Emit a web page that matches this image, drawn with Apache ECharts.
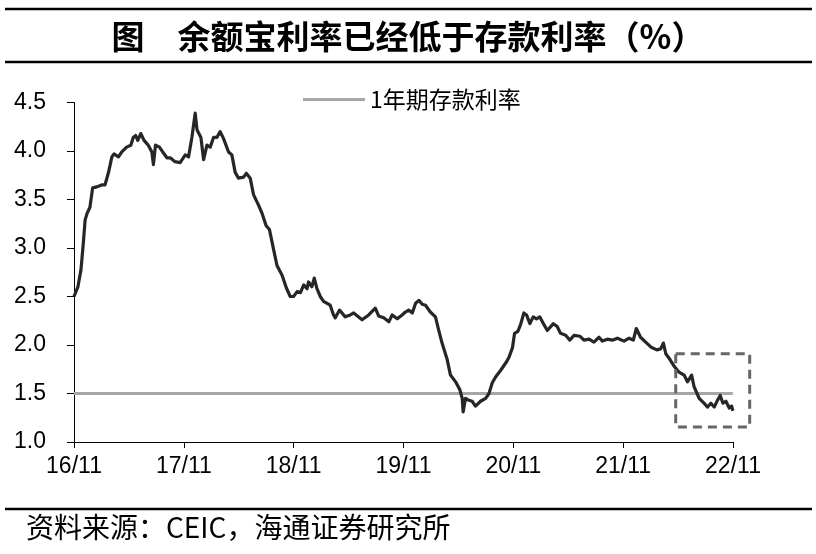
<!DOCTYPE html>
<html>
<head>
<meta charset="utf-8">
<script src="https://cdn.jsdelivr.net/npm/echarts@6/dist/echarts.min.js"></script>
<style>
html,body{margin:0;padding:0;background:#fff;}
#chart{width:816px;height:554px;}
</style>
</head>
<body>
<div id="chart"></div>
<script>
// ---- data ----
const titleText = '图　余额宝利率已经低于存款利率（%）';
const sourceText = '资料来源：CEIC，海通证券研究所';
const depositName = '1年期存款利率';
const startDate = '2016-11-01';
const xTickLabels = ['16/11', '17/11', '18/11', '19/11', '20/11', '21/11', '22/11'];

const dates = [
  '2016-11-01','2016-11-14','2016-11-24','2016-12-02','2016-12-08','2016-12-15','2016-12-24',
  '2017-01-02','2017-01-16','2017-02-01','2017-02-12','2017-02-23','2017-03-07','2017-03-14',
  '2017-03-29','2017-04-09','2017-04-25','2017-05-09','2017-05-17','2017-05-25','2017-06-01',
  '2017-06-11','2017-06-22','2017-07-06','2017-07-18','2017-07-23','2017-07-30','2017-08-12',
  '2017-08-23','2017-09-06','2017-09-17','2017-10-03','2017-10-20','2017-11-06','2017-11-17',
  '2017-11-28','2017-12-09','2017-12-15','2017-12-28','2018-01-06','2018-01-17','2018-01-28',
  '2018-02-08','2018-02-19','2018-03-02','2018-03-13','2018-03-30','2018-04-10','2018-04-21',
  '2018-05-02','2018-05-19','2018-05-28','2018-06-10','2018-06-21','2018-07-08','2018-07-19',
  '2018-08-02','2018-08-13','2018-08-27','2018-09-07','2018-09-24','2018-10-08','2018-10-21',
  '2018-11-01','2018-11-13','2018-11-24','2018-12-05','2018-12-16','2018-12-21','2019-01-01',
  '2019-01-09','2019-01-18','2019-01-29','2019-02-09','2019-03-03','2019-03-14','2019-03-20',
  '2019-04-03','2019-04-22','2019-05-09','2019-05-20','2019-06-17','2019-07-09','2019-07-31',
  '2019-08-11','2019-08-28','2019-09-14','2019-09-25','2019-10-12','2019-10-28','2019-11-08',
  '2019-11-19','2019-12-01','2019-12-12','2019-12-23','2020-01-03','2020-01-14','2020-01-30',
  '2020-02-16','2020-02-27','2020-03-09','2020-03-26','2020-04-06','2020-04-23','2020-05-07',
  '2020-05-15','2020-05-18','2020-05-26','2020-06-06','2020-06-17','2020-06-28','2020-07-15',
  '2020-08-01','2020-08-12','2020-08-23','2020-09-03','2020-09-20','2020-10-10','2020-10-17',
  '2020-10-29','2020-11-05','2020-11-16','2020-11-25','2020-12-06','2020-12-15','2020-12-26',
  '2021-01-06','2021-01-17','2021-01-28','2021-02-09','2021-02-22','2021-03-14','2021-03-27',
  '2021-04-07','2021-04-24','2021-05-08','2021-05-22','2021-06-11','2021-06-24','2021-07-11',
  '2021-07-27','2021-08-13','2021-08-24','2021-09-10','2021-09-26','2021-10-13','2021-11-04',
  '2021-11-21','2021-12-05','2021-12-15','2021-12-29','2022-01-15','2022-02-01','2022-02-21',
  '2022-03-06','2022-03-15','2022-03-23','2022-04-06','2022-04-20','2022-05-06','2022-05-23',
  '2022-06-03','2022-06-17','2022-06-25','2022-07-12','2022-07-28','2022-08-09','2022-08-20',
  '2022-08-31','2022-09-11','2022-09-20','2022-09-29','2022-10-09','2022-10-20','2022-10-28',
  '2022-11-01'
];
const yuebaoRate = [
  2.50,2.60,2.77,3.05,3.29,3.36,3.42,
  3.62,3.63,3.65,3.65,3.77,3.94,3.97,
  3.94,3.99,4.04,4.06,4.14,4.16,4.11,
  4.18,4.11,4.06,3.99,3.86,4.06,4.04,
  3.99,3.93,3.93,3.89,3.88,3.96,3.94,
  4.14,4.39,4.22,4.14,3.91,4.06,4.04,
  4.14,4.14,4.20,4.13,3.99,3.96,3.78,
  3.72,3.73,3.77,3.72,3.55,3.44,3.36,
  3.23,3.19,2.98,2.82,2.72,2.59,2.50,
  2.50,2.55,2.54,2.62,2.58,2.65,2.60,
  2.69,2.58,2.50,2.45,2.41,2.31,2.28,
  2.36,2.29,2.31,2.33,2.26,2.31,2.38,
  2.30,2.28,2.24,2.31,2.27,2.31,2.34,
  2.36,2.33,2.43,2.46,2.42,2.41,2.34,
  2.29,2.15,2.02,1.85,1.69,1.62,1.54,
  1.45,1.31,1.45,1.43,1.42,1.37,1.42,
  1.45,1.50,1.61,1.67,1.74,1.83,1.87,
  1.97,2.12,2.14,2.21,2.33,2.31,2.22,
  2.29,2.27,2.29,2.22,2.15,2.22,2.19,
  2.12,2.10,2.05,2.10,2.09,2.05,2.06,
  2.03,2.08,2.04,2.06,2.05,2.07,2.04,
  2.07,2.05,2.17,2.08,2.03,1.98,1.95,
  1.96,2.02,1.91,1.85,1.78,1.72,1.69,
  1.62,1.69,1.57,1.45,1.40,1.36,1.40,
  1.36,1.43,1.48,1.40,1.42,1.35,1.37,
  1.32
];
const depositDates = ['2016-11-01', '2022-11-01'];
const depositRate = [1.5, 1.5];
// highlight box (date range / value range)
const boxDates = ['2022-04-25', '2022-12-27'];
const boxValues = [1.91, 1.155];

// ---- helpers ----
const DAY = 86400000;
function yearsFromStart(d) {
  return (Date.parse(d) - Date.parse(startDate)) / (365.25 * DAY);
}
const lineData = dates.map((d, i) => [yearsFromStart(d), yuebaoRate[i]]);
const depositData = depositDates.map((d, i) => [yearsFromStart(d), depositRate[i]]);

const latin = 'Liberation Sans, Arial, sans-serif';
const cjk = '"Noto Sans CJK SC", sans-serif';

const chart = echarts.init(document.getElementById('chart'), null, {renderer: 'canvas'});
const option = {
  animation: false,
  backgroundColor: '#ffffff',
  title: {
    text: titleText,
    left: 'center',
    top: 15,
    textStyle: {fontFamily: cjk, fontSize: 33, fontWeight: 'bold', color: '#000'}
  },
  legend: {
    data: [depositName],
    left: 298,
    top: 83,
    itemWidth: 62,
    itemHeight: 14,
    icon: 'path://M0,6 L62,6 L62,9 L0,9 Z',
    textStyle: {fontFamily: cjk, fontSize: 23, color: '#000'},
    itemStyle: {color: '#a6a6a6'}
  },
  grid: {left: 74, right: 83, top: 102.5, bottom: 112, containLabel: false},
  xAxis: {
    type: 'value',
    min: 0,
    max: 6,
    interval: 1,
    axisLine: {lineStyle: {color: '#000', width: 1}},
    axisTick: {show: true, length: 6, lineStyle: {color: '#000'}},
    splitLine: {show: false},
    axisLabel: {
      margin: 13,
      fontFamily: latin,
      fontSize: 23,
      color: '#000',
      formatter: v => xTickLabels[Math.round(v)] || ''
    }
  },
  yAxis: {
    type: 'value',
    min: 1.0,
    max: 4.5,
    interval: 0.5,
    axisLine: {show: true, lineStyle: {color: '#000', width: 1}},
    axisTick: {show: true, length: 7, lineStyle: {color: '#000'}},
    splitLine: {show: false},
    axisLabel: {
      margin: 28,
      fontFamily: latin,
      fontSize: 23,
      color: '#000',
      formatter: v => v.toFixed(1)
    }
  },
  series: [
    {
      name: depositName,
      type: 'line',
      data: depositData,
      symbol: 'none',
      lineStyle: {color: '#a6a6a6', width: 3},
      itemStyle: {color: '#a6a6a6'},
      z: 2
    },
    {
      name: '余额宝7日年化收益率',
      type: 'line',
      data: lineData,
      symbol: 'none',
      clip: false,
      lineStyle: {color: '#262626', width: 3.2, join: 'round'},
      itemStyle: {color: '#262626'},
      z: 3
    }
  ]
};
chart.setOption(option);

// decorations: rules and source, and highlight box positioned through the axes
const p1 = chart.convertToPixel({gridIndex: 0}, [yearsFromStart(boxDates[0]), boxValues[0]]);
const p2 = chart.convertToPixel({gridIndex: 0}, [yearsFromStart(boxDates[1]), boxValues[1]]);
chart.setOption({
  graphic: [
    {type: 'line', shape: {x1: 5, y1: 9, x2: 812, y2: 9}, style: {stroke: '#000', lineWidth: 2.5}},
    {type: 'line', shape: {x1: 5, y1: 62, x2: 812, y2: 62}, style: {stroke: '#000', lineWidth: 2.5}},
    {type: 'line', shape: {x1: 5, y1: 509, x2: 812, y2: 509}, style: {stroke: '#000', lineWidth: 2.5}},
    {type: 'text', left: 26, top: 513, style: {text: sourceText, font: '28px "Noto Sans CJK SC", sans-serif', fill: '#000'}},
    {type: 'rect', shape: {x: Math.min(p1[0], p2[0]), y: Math.min(p1[1], p2[1]), width: Math.abs(p2[0] - p1[0]), height: Math.abs(p2[1] - p1[1])},
     style: {fill: 'none', stroke: '#666666', lineWidth: 3, lineDash: [9, 6]}, z: 10}
  ]
});
</script>
</body>
</html>
